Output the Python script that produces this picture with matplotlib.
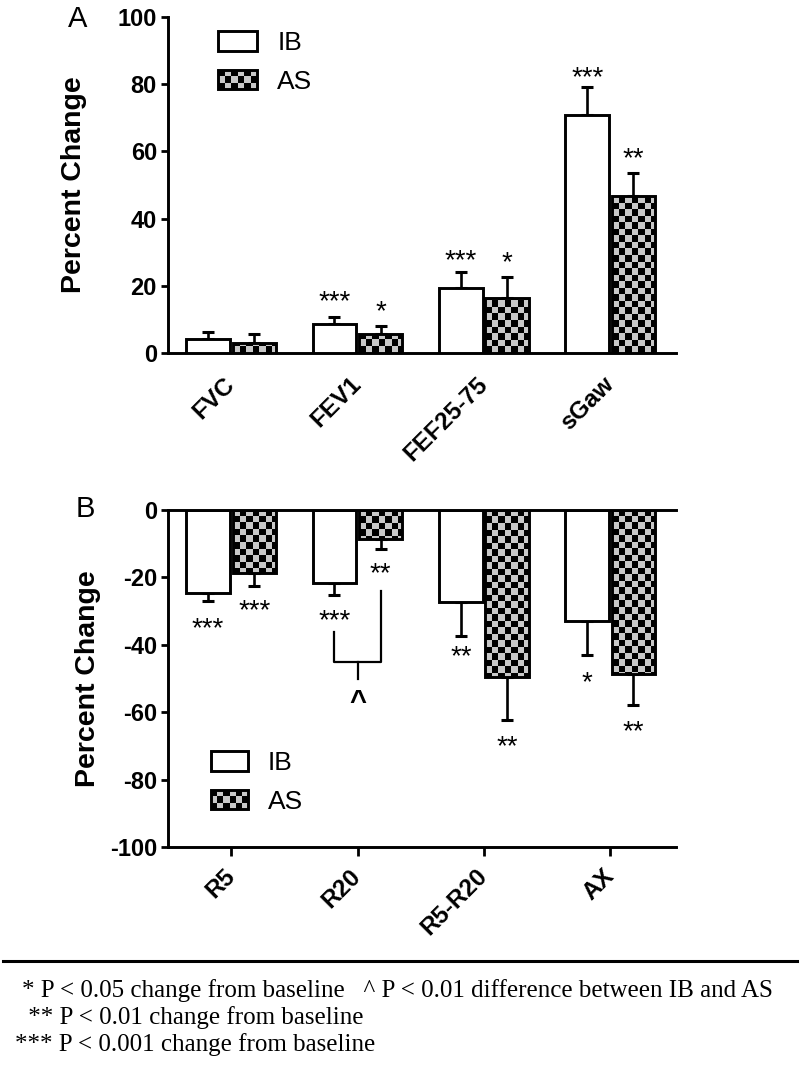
import numpy as np
import matplotlib
matplotlib.use("Agg")
import matplotlib.pyplot as plt
from matplotlib.patches import Rectangle
from matplotlib.legend_handler import HandlerBase
from matplotlib.colors import ListedColormap
from matplotlib.lines import Line2D

plt.rcParams['font.family'] = ['Liberation Sans', 'DejaVu Sans']
plt.rcParams['axes.unicode_minus'] = False

# ---------------- data ----------------
cats_A = ["FVC", "FEV1", "FEF25-75", "sGaw"]
ib_A = [4.2, 8.6, 19.3, 70.8]
ib_A_sem = [2.1, 2.1, 4.7, 8.3]
as_A = [2.9, 5.7, 16.4, 46.8]
as_A_sem = [2.8, 2.3, 6.3, 6.9]
ib_A_sig = ["", "***", "***", "***"]
ib_A_sig_y = [0, 16.4, 28.6, 83.0]
as_A_sig = ["", "*", "*", "**"]
as_A_sig_y = [0, 13.4, 28.0, 58.9]

cats_B = ["R5", "R20", "R5-R20", "AX"]
ib_B = [-24.6, -21.7, -27.3, -32.9]
ib_B_sem = [2.4, 3.5, 10.1, 10.1]
as_B = [-18.7, -8.6, -49.5, -48.7]
as_B_sem = [3.9, 3.0, 12.8, 9.2]
ib_B_sig = ["***", "***", "**", "*"]
ib_B_sig_y = [-34.1, -31.8, -42.4, -50.1]
as_B_sig = ["***", "**", "**", "**"]
as_B_sig_y = [-28.8, -17.8, -69.1, -64.7]

# IB vs AS difference bracket for R20
bracket_cat = 1
bracket_ib_top = -36.2
bracket_as_top = -24.0
bracket_level = -45.0
bracket_tick_end = -50.0
bracket_sig = "^"
bracket_sig_y = -55.5

series_labels = ["IB", "AS"]
footnotes = [
    "* P < 0.05 change from baseline   ^ P < 0.01 difference between IB and AS",
    " ** P < 0.01 change from baseline",
    "*** P < 0.001 change from baseline",
]

# ---------------- style ----------------
W, H = 800, 1071
GREY = "#c8c8c8"
BAR_W = 0.345
OFF = 0.183
LW = 2.1
CELL_PX = 6.5

fig = plt.figure(figsize=(W / 100, H / 100), dpi=100)


def px_axes(left, top, right, bottom):
    return fig.add_axes([left / W, 1 - bottom / H, (right - left) / W, (bottom - top) / H])


class CheckerHandler(HandlerBase):
    def create_artists(self, legend, orig_handle, xdescent, ydescent,
                       width, height, fontsize, trans):
        x0, y0 = -xdescent, -ydescent
        arts = [Rectangle((x0, y0), width, height, facecolor=GREY,
                          edgecolor="none", transform=trans)]
        nc, nr = 6, 3
        cw, ch = width / nc, height / nr
        for i in range(nr):
            for j in range(nc):
                if (i + j) % 2 == 0:
                    arts.append(Rectangle((x0 + j * cw, y0 + i * ch), cw, ch,
                                          facecolor="black", edgecolor="none",
                                          transform=trans))
        arts.append(Rectangle((x0, y0), width, height, fill=False,
                              edgecolor="black", lw=LW, transform=trans))
        return arts


def checker_fill(ax, bars):
    t0 = ax.transData.transform((0, 0))
    t1 = ax.transData.transform((1, 1))
    ppx = abs(t1[0] - t0[0])
    ppy = abs(t1[1] - t0[1])
    dx, dy = CELL_PX / ppx, CELL_PX / ppy
    cmap = ListedColormap([GREY, "black"])
    for b in bars:
        x0 = b.get_x()
        h = b.get_height()
        nc = int(np.ceil(b.get_width() / dx)) + 1
        nr = int(np.ceil(abs(h) / dy)) + 1
        arr = np.indices((nr, nc)).sum(axis=0) % 2
        if h >= 0:
            ext = (x0, x0 + nc * dx, 0, nr * dy)
        else:
            ext = (x0, x0 + nc * dx, -nr * dy, 0)
        im = ax.imshow(arr, cmap=cmap, extent=ext, aspect="auto",
                       interpolation="nearest", zorder=4, vmin=0, vmax=1)
        im.set_clip_path(b)


def panel(ax, cats, ib, ib_sem, as_, as_sem, ylim, yticks):
    x = np.arange(len(cats))
    ax.set_xlim(-0.5, 3.52)
    ax.set_ylim(*ylim)
    ib = np.array(ib); as_ = np.array(as_)
    ax.bar(x - OFF, ib, BAR_W, facecolor="white", edgecolor="black", lw=LW, zorder=5)
    bars_as = ax.bar(x + OFF, as_, BAR_W, facecolor=GREY, edgecolor="none", zorder=3)
    checker_fill(ax, bars_as)
    ax.bar(x + OFF, as_, BAR_W, fill=False, edgecolor="black", lw=LW, zorder=6)
    for xs, v, s in ((x - OFF, ib, ib_sem), (x + OFF, as_, as_sem)):
        s = np.array(s)
        z = np.zeros_like(s)
        yerr = np.where(v >= 0, [z, s], [s, z])
        ax.errorbar(xs, v, yerr=yerr, fmt="none", ecolor="black", elinewidth=1.9,
                    capsize=4, capthick=2.2, zorder=2)
    ax.set_xlim(-0.5, 3.52)
    ax.set_ylim(*ylim)
    ax.set_xticks(x)
    ax.set_xticklabels(cats)
    ax.set_yticks(yticks)
    for sp in ("top", "right"):
        ax.spines[sp].set_visible(False)
    for sp in ("left", "bottom"):
        ax.spines[sp].set_linewidth(LW)
    ax.tick_params(axis="y", direction="out", length=5, width=2, labelsize=17, pad=3)
    for lab in ax.get_yticklabels():
        lab.set_fontweight("bold")
    for lab in ax.get_xticklabels():
        lab.set_fontweight("bold")
        lab.set_fontsize(17.5)
        lab.set_rotation(45)
        lab.set_ha("right")
        lab.set_va("center")
        lab.set_rotation_mode("anchor")
    ax.set_ylabel("Percent Change", fontsize=20.5, fontweight="bold")
    return x


def stars(ax, xs, labels, ys):
    for xx, s, yy in zip(xs, labels, ys):
        if s:
            ax.annotate(s, (xx, yy), xytext=(0, -8.3), textcoords="offset points",
                        ha="center", va="baseline", fontsize=20, zorder=7)


def legend(ax, anchor, hl):
    h_ib = Rectangle((0, 0), 1, 1, facecolor="white", edgecolor="black", lw=LW)
    h_as = Rectangle((0, 0), 1, 1, facecolor=GREY, edgecolor="black", lw=LW)
    ax.legend([h_ib, h_as], series_labels, handler_map={h_as: CheckerHandler()},
              loc="upper left", bbox_to_anchor=anchor, frameon=False, fontsize=19,
              handlelength=hl, handleheight=0.76, handletextpad=0.76,
              labelspacing=0.54, borderpad=0, borderaxespad=0)


# ---------------- panel A ----------------
axA = px_axes(168, 17, 676, 353)
xA = panel(axA, cats_A, ib_A, ib_A_sem, as_A, as_A_sem, (0, 100), np.arange(0, 101, 20))
axA.tick_params(axis="x", length=0, pad=20)
axA.yaxis.set_label_coords(-0.160, 0.5)
stars(axA, xA - OFF, ib_A_sig, ib_A_sig_y)
stars(axA, xA + OFF, as_A_sig, as_A_sig_y)
legend(axA, (0.0986, 0.9575), 1.48)

# ---------------- panel B ----------------
axB = px_axes(168, 510, 676, 847)
xB = panel(axB, cats_B, ib_B, ib_B_sem, as_B, as_B_sem, (-100, 0), np.arange(-100, 1, 20))
axB.axhline(0, color="black", lw=LW, zorder=8, clip_on=False)
axB.tick_params(axis="x", direction="out", length=6.5, width=2, pad=12)
axB.yaxis.set_label_coords(-0.132, 0.5)
stars(axB, xB - OFF, ib_B_sig, ib_B_sig_y)
stars(axB, xB + OFF, as_B_sig, as_B_sig_y)
bx_ib = bracket_cat - OFF
bx_as = bracket_cat + OFF
axB.plot([bx_ib, bx_ib, bx_as, bx_as], [bracket_ib_top, bracket_level, bracket_level, bracket_as_top],
         color="black", lw=1.6, zorder=7)
axB.plot([bracket_cat, bracket_cat], [bracket_level, bracket_tick_end], color="black", lw=1.6, zorder=7)
axB.annotate(bracket_sig, (bracket_cat, bracket_sig_y), xytext=(0, -9), textcoords="offset points",
             ha="center", va="baseline", fontsize=21, fontweight="bold")
legend(axB, (0.0848, 0.284), 1.40)

# panel letters
fig.text(68 / W, 1 - 27 / H, "A", fontsize=21, ha="left", va="baseline")
fig.text(76 / W, 1 - 517 / H, "B", fontsize=21, ha="left", va="baseline")

# separator and footnotes
fig.add_artist(Line2D([3 / W, 797 / W], [1 - 961 / H, 1 - 961 / H], color="black", lw=2.2))
for txt, xp, yp in zip(footnotes, [22, 22, 15], [997, 1024, 1051]):
    fig.text(xp / W, 1 - yp / H, txt, fontsize=18, family="Liberation Serif",
             ha="left", va="baseline")

fig.savefig("out.png", dpi=100)
